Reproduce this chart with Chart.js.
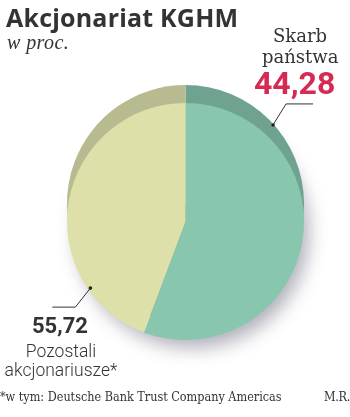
<!DOCTYPE html>
<html>
<head>
<meta charset="utf-8">
<script src="https://cdn.jsdelivr.net/npm/chart.js@4"></script>
<style>
  html, body { margin: 0; padding: 0; background: #fff; }
  #wrap { position: relative; width: 350px; height: 417px; overflow: hidden; }
  #wrap canvas { position: absolute; left: 0; top: 0; }
  .t { position: absolute; color: #333; white-space: nowrap; }
  #title { left: 6px; top: 0px; font: 700 25px "Open Sans", sans-serif; letter-spacing: 0.2px; }
  #unit { left: 7px; top: 31px; font: italic 20px "Liberation Serif", serif; letter-spacing: 0.4px; }
  #lab1 { left: 262px; top: 25px; width: 76px; text-align: center; font: 18px/21px "DejaVu Serif", serif; font-weight: 300; }
  #val1 { left: 254px; top: 64px; font: 700 32px Roboto, sans-serif; color: #d52a52; }
  #val2 { left: 32px; top: 313px; font: 700 22px Roboto, sans-serif; }
  #lab2 { left: 0px; top: 342px; width: 122px; text-align: center; font: 300 17.5px/19px Roboto, sans-serif; }
  #foot { left: 0px; top: 389px; font: 12.5px "DejaVu Serif Condensed", "DejaVu Serif", serif; }
  #auth { left: 324px; top: 389px; font: 12.5px "DejaVu Serif Condensed", "DejaVu Serif", serif; letter-spacing: -0.3px; }
</style>
</head>
<body>
<div id="wrap">
  <canvas id="c" width="350" height="417"></canvas>
  <div class="t" id="title">Akcjonariat KGHM</div>
  <div class="t" id="unit">w proc.</div>
  <div class="t" id="lab1">Skarb<br>państwa</div>
  <div class="t" id="val1">44,28</div>
  <div class="t" id="val2">55,72</div>
  <div class="t" id="lab2">Pozostali<br>akcjonariusze*</div>
  <div class="t" id="foot">*w tym: Deutsche Bank Trust Company Americas</div>
  <div class="t" id="auth">M.R.</div>
</div>
<script>
// wartości podpisane na grafice
const categories = ['Skarb państwa', 'Pozostali akcjonariusze*'];
const values = [44.28, 55.72];
// wycinki tak jak są narysowane w oryginale (zielony zajmuje ok. 200°, żółty resztę)
const sliceShares = [55.72, 44.28];
const faceColors = ['#89c6ae', '#dde0a9'];
const rimColors = ['#6fa390', '#b8bb8f'];

// tło "3D": cień pod tarczą i ciemniejsza krawędź przesunięta w górę
const rimPlugin = {
  id: 'rim',
  beforeDatasetsDraw(chart) {
    const ctx = chart.ctx;
    const arcs = chart.getDatasetMeta(0).data;
    if (!arcs.length) return;
    const p = arcs[0].getProps(['x', 'y', 'outerRadius'], true);
    ctx.save();
    ctx.shadowColor = 'rgba(70,70,95,0.42)';
    ctx.shadowBlur = 18;
    ctx.shadowOffsetX = 7;
    ctx.shadowOffsetY = 10;
    ctx.fillStyle = '#fff';
    ctx.beginPath();
    ctx.arc(p.x, p.y, p.outerRadius - 2, 0, Math.PI * 2);
    ctx.fill();
    ctx.restore();

    ctx.save();
    ctx.translate(0, -18);
    arcs.forEach((a, i) => {
      const q = a.getProps(['x', 'y', 'startAngle', 'endAngle', 'outerRadius'], true);
      ctx.fillStyle = rimColors[i];
      ctx.beginPath();
      ctx.moveTo(q.x, q.y);
      ctx.arc(q.x, q.y, q.outerRadius, q.startAngle, q.endAngle);
      ctx.closePath();
      ctx.fill();
    });
    ctx.restore();
  },
  afterDatasetsDraw(chart) {
    const ctx = chart.ctx;
    const arcs = chart.getDatasetMeta(0).data;
    if (!arcs.length) return;
    const p = arcs[0].getProps(['x', 'y', 'outerRadius'], true);
    // linie odniesienia: [kąt, promień względny, dx do załamania, dy, dł. poziomej]
    const leaders = [
      [-47.8, 1.1, 13, -21, 27],
      [145, 0.98, -15, 19, -23]
    ];
    ctx.save();
    ctx.strokeStyle = '#333';
    ctx.fillStyle = '#222';
    ctx.lineWidth = 1;
    leaders.forEach(l => {
      const ang = l[0] * Math.PI / 180;
      const x = p.x + Math.cos(ang) * p.outerRadius * l[1];
      const y = p.y + Math.sin(ang) * p.outerRadius * l[1];
      ctx.beginPath();
      ctx.moveTo(x, y);
      ctx.lineTo(x + l[2], y + l[3]);
      ctx.lineTo(x + l[2] + l[4], y + l[3]);
      ctx.stroke();
      ctx.beginPath();
      ctx.arc(x, y, 1.8, 0, Math.PI * 2);
      ctx.fill();
    });
    ctx.restore();
  }
};

new Chart(document.getElementById('c'), {
  type: 'pie',
  data: {
    labels: categories,
    datasets: [{
      data: sliceShares,
      backgroundColor: faceColors,
      borderWidth: 0
    }]
  },
  options: {
    responsive: false,
    animation: false,
    layout: { padding: { left: 66, right: 45, top: 103, bottom: 77 } },
    plugins: {
      legend: { display: false },
      tooltip: { enabled: false },
      title: { display: false }
    }
  },
  plugins: [rimPlugin]
});
</script>
</body>
</html>
